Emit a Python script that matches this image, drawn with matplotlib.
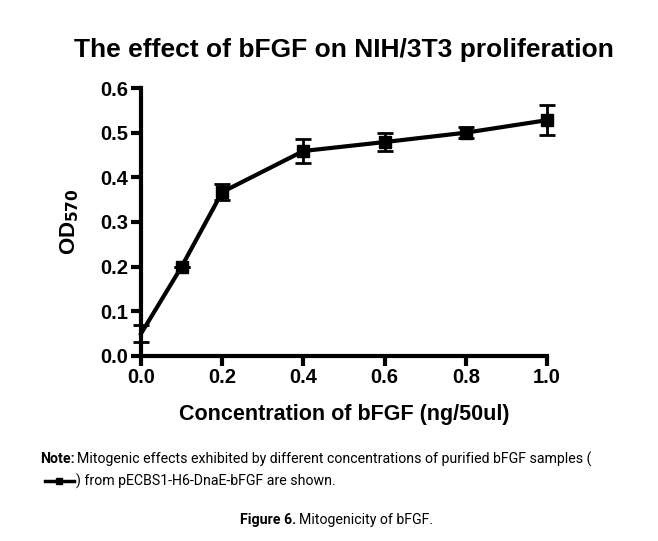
import matplotlib
matplotlib.use("Agg")
import matplotlib.pyplot as plt
from matplotlib.lines import Line2D

# Data
conc = [0.0, 0.1, 0.2, 0.4, 0.6, 0.8, 1.0]
od570 = [0.050, 0.200, 0.367, 0.459, 0.479, 0.500, 0.528]
od_err = [0.019, 0.000, 0.017, 0.026, 0.020, 0.013, 0.033]
x_ticks = [0.0, 0.2, 0.4, 0.6, 0.8, 1.0]
y_ticks = [0.0, 0.1, 0.2, 0.3, 0.4, 0.5, 0.6]

plt.rcParams["font.family"] = ["Liberation Sans", "DejaVu Sans"]
narrow = ["Roboto", "DejaVu Sans"]

fig = plt.figure(figsize=(6.58, 5.41), dpi=100)
ax = fig.add_axes([0.2143, 0.342, 0.617, 0.4953])

ax.errorbar(conc, od570, yerr=od_err, color="black", linewidth=3,
            marker="s", markersize=9, markevery=slice(1, None),
            capsize=6, elinewidth=2, capthick=2, clip_on=False, zorder=5)

ax.set_xlim(0, 1.0)
ax.set_ylim(0, 0.6)
ax.set_xticks(x_ticks)
ax.set_yticks(y_ticks)
ax.set_xticklabels([f"{v:.1f}" for v in x_ticks], fontsize=14.5, fontweight="bold")
ax.set_yticklabels([f"{v:.1f}" for v in y_ticks], fontsize=14.5, fontweight="bold")
ax.tick_params(width=3, length=7, direction="out", pad=2)
for side in ["top", "right"]:
    ax.spines[side].set_visible(False)
for side in ["left", "bottom"]:
    ax.spines[side].set_linewidth(3)

ax.set_title("The effect of bFGF on NIH/3T3 proliferation", fontsize=19,
             fontweight="bold", pad=22)
ax.set_xlabel("Concentration of bFGF (ng/50ul)", fontsize=15.5, fontweight="bold", labelpad=12)
ax.set_ylabel("OD$_{\\mathbf{570}}$", fontsize=16, fontweight="bold", labelpad=14)

# note under the chart
fig.canvas.draw()
renderer = fig.canvas.get_renderer()
note_size = 10.2
y1 = 1 - 459 / 541
y2 = 1 - 481 / 541
y3 = 1 - 520 / 541

t = fig.text(0.061, y1, "Note:", fontsize=note_size, fontweight="bold",
             family=narrow, va="center")
bb = t.get_window_extent(renderer).transformed(fig.transFigure.inverted())
fig.text(bb.x1 + 0.004, y1,
         "Mitogenic effects exhibited by different concentrations of purified bFGF samples (",
         fontsize=note_size, family=narrow, va="center")
fig.add_artist(Line2D([0.068, 0.112], [y2, y2], color="black", linewidth=2.5,
                      transform=fig.transFigure))
fig.add_artist(Line2D([0.090], [y2], color="black", marker="s", markersize=5,
                      linestyle="none", transform=fig.transFigure))
fig.text(0.116, y2, ") from pECBS1-H6-DnaE-bFGF are shown.",
         fontsize=note_size, family=narrow, va="center")

fig.text(0.45, y3, "Figure 6.", fontsize=note_size, fontweight="bold",
         family=narrow, va="center", ha="right")
fig.text(0.454, y3, "Mitogenicity of bFGF.", fontsize=note_size,
         family=narrow, va="center", ha="left")

fig.savefig("out.png", dpi=100)
